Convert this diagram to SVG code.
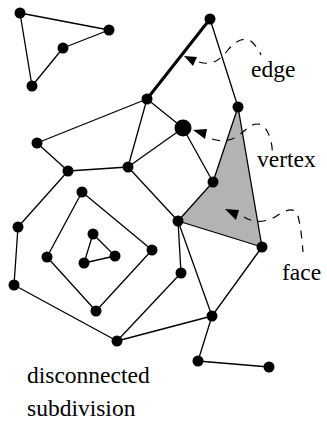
<svg xmlns="http://www.w3.org/2000/svg" width="327" height="430" viewBox="0 0 327 430">
<style>
.e{stroke:#000;stroke-width:1.3;fill:none;stroke-linecap:round}
.thick{stroke:#000;stroke-width:3;fill:none;stroke-linecap:round}
.d{stroke:#000;stroke-width:1.2;fill:none;stroke-dasharray:8,7}
.ah{fill:#000}
.n{fill:#000}
.face{fill:#b3b3b3;stroke:none}
</style>
<rect width="327" height="430" fill="#fff"/>
<polygon class="face" points="238,107 213,182 178,221 262,247"/>
<g id="connectors">
<line class="e" x1="20" y1="13" x2="109" y2="30"/>
<line class="e" x1="109" y1="30" x2="63" y2="48"/>
<line class="e" x1="63" y1="48" x2="32" y2="86"/>
<line class="e" x1="32" y1="86" x2="20" y2="13"/>
<line class="thick" x1="147" y1="99" x2="210" y2="19"/>
<line class="e" x1="210" y1="19" x2="238" y2="107"/>
<line class="e" x1="147" y1="99" x2="37" y2="143"/>
<line class="e" x1="147" y1="99" x2="128" y2="167"/>
<line class="e" x1="147" y1="99" x2="183" y2="128"/>
<line class="e" x1="37" y1="143" x2="68" y2="171"/>
<line class="e" x1="68" y1="171" x2="128" y2="167"/>
<line class="e" x1="68" y1="171" x2="18" y2="227"/>
<line class="e" x1="18" y1="227" x2="14" y2="285"/>
<line class="e" x1="128" y1="167" x2="183" y2="128"/>
<line class="e" x1="128" y1="167" x2="178" y2="221"/>
<line class="e" x1="183" y1="128" x2="213" y2="182"/>
<line class="e" x1="238" y1="107" x2="213" y2="182"/>
<line class="e" x1="213" y1="182" x2="178" y2="221"/>
<line class="e" x1="178" y1="221" x2="262" y2="247"/>
<line class="e" x1="262" y1="247" x2="238" y2="107"/>
<line class="e" x1="178" y1="221" x2="181" y2="273"/>
<line class="e" x1="178" y1="221" x2="212" y2="316"/>
<line class="e" x1="262" y1="247" x2="212" y2="316"/>
<line class="e" x1="181" y1="273" x2="117" y2="341"/>
<line class="e" x1="82" y1="192" x2="47" y2="257"/>
<line class="e" x1="82" y1="192" x2="152" y2="250"/>
<line class="e" x1="47" y1="257" x2="96" y2="311"/>
<line class="e" x1="152" y1="250" x2="96" y2="311"/>
<line class="e" x1="93" y1="234" x2="115" y2="256"/>
<line class="e" x1="115" y1="256" x2="84" y2="263"/>
<line class="e" x1="84" y1="263" x2="93" y2="234"/>
<line class="e" x1="14" y1="285" x2="117" y2="341"/>
<line class="e" x1="117" y1="341" x2="212" y2="316"/>
<line class="e" x1="212" y1="316" x2="198" y2="361"/>
<line class="e" x1="198" y1="361" x2="269" y2="367"/>
</g>
<g id="pointers">
<path class="d" d="M199,62 C212,66 220,60 228,50 C235,41 245,36 252,42 C256,46 259,50 261,55"/>
<polygon class="ah" points="184,56 197,57 193,66"/>
<path class="d" d="M212,139 C222,142 230,141 238,136 C246,130 250,124 258,124 C266,124 274,140 272,158"/>
<polygon class="ah" points="193,130 207,129 205,139"/>
<path class="d" d="M244,217 C255,224 268,222 278,215 C286,210 295,206 298,216 C301,228 302,240 303,252"/>
<polygon class="ah" points="225,209 239,210 236,220"/>
</g>
<g id="nodes">
<circle id="n1" class="n" cx="20" cy="13" r="5.5"/>
<circle id="n2" class="n" cx="109" cy="30" r="5.5"/>
<circle id="n3" class="n" cx="63" cy="48" r="5.5"/>
<circle id="n4" class="n" cx="32" cy="86" r="5.5"/>
<circle id="n5" class="n" cx="147" cy="99" r="5.5"/>
<circle id="n6" class="n" cx="210" cy="19" r="5.5"/>
<circle id="n7" class="n" cx="238" cy="107" r="5.5"/>
<circle id="vertex" class="n" cx="183" cy="128" r="8.5"/>
<circle id="n9" class="n" cx="37" cy="143" r="5.5"/>
<circle id="n10" class="n" cx="68" cy="171" r="5.5"/>
<circle id="n11" class="n" cx="128" cy="167" r="5.5"/>
<circle id="n12" class="n" cx="213" cy="182" r="5.5"/>
<circle id="n13" class="n" cx="82" cy="192" r="5.5"/>
<circle id="n14" class="n" cx="18" cy="227" r="5.5"/>
<circle id="n15" class="n" cx="178" cy="221" r="5.5"/>
<circle id="n16" class="n" cx="93" cy="234" r="5.5"/>
<circle id="n17" class="n" cx="262" cy="247" r="5.5"/>
<circle id="n18" class="n" cx="152" cy="250" r="5.5"/>
<circle id="n19" class="n" cx="115" cy="256" r="5.5"/>
<circle id="n20" class="n" cx="47" cy="257" r="5.5"/>
<circle id="n21" class="n" cx="84" cy="263" r="5.5"/>
<circle id="n22" class="n" cx="181" cy="273" r="5.5"/>
<circle id="n23" class="n" cx="14" cy="285" r="5.5"/>
<circle id="n24" class="n" cx="96" cy="311" r="5.5"/>
<circle id="n25" class="n" cx="212" cy="316" r="5.5"/>
<circle id="n26" class="n" cx="117" cy="341" r="5.5"/>
<circle id="n27" class="n" cx="198" cy="361" r="5.5"/>
<circle id="n28" class="n" cx="269" cy="367" r="5.5"/>
</g>
<g id="labels" font-family="'Liberation Serif', 'Times New Roman', serif" font-size="23.5" fill="#000">
<text x="251" y="77">edge</text>
<text x="257" y="167">vertex</text>
<text x="282" y="280">face</text>
<text x="27" y="382.5">disconnected</text>
<text x="27" y="416">subdivision</text>
</g>
</svg>
